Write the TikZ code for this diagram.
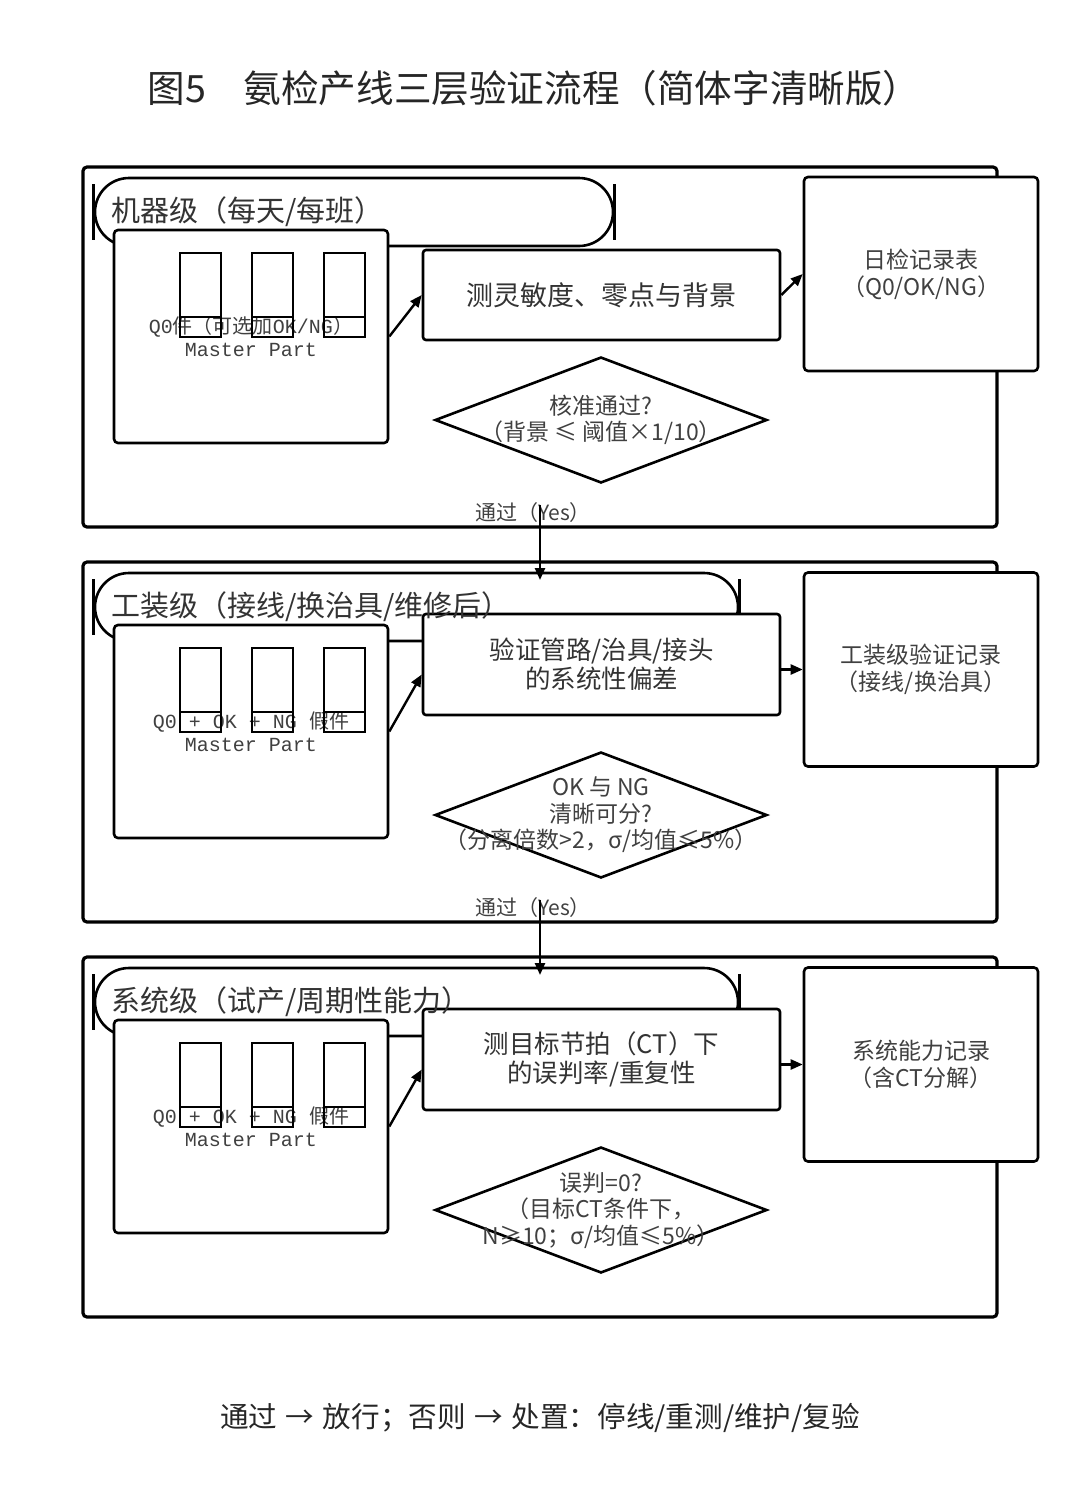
\documentclass[tikz,border=0pt]{standalone}
\usepackage{fontspec}
\setmainfont{Noto Sans CJK SC}
\setmonofont{Liberation Mono}
\usetikzlibrary{positioning, arrows.meta, shapes.geometric}
\newcommand{\mono}[1]{\texttt{#1}}

\begin{document}
\begin{tikzpicture}[x=0.5pt, y=-0.5pt, >={Triangle[length=6pt,width=5pt]},
    panel/.style={draw, line width=1.6pt, rounded corners=2pt, minimum width=457pt, minimum height=180pt, inner sep=0pt},
    track/.style={draw, line width=1.3pt, rounded corners=17pt, minimum height=34pt, inner sep=0pt},
    bar/.style={line width=1.3pt},
    partbox/.style={draw, fill=white, line width=1.3pt, rounded corners=2pt, minimum width=137pt, minimum height=106.5pt,
      inner sep=0pt, align=center, text=black!75, font=\fontsize{10pt}{11.5pt}\selectfont},
    slot/.style={draw, line width=1pt, minimum width=20.5pt, minimum height=42pt, inner sep=0pt,
      path picture={\draw[line width=1pt] ([yshift=10pt]path picture bounding box.south west) -- ([yshift=10pt]path picture bounding box.south east);}},
    procbox/.style={draw, fill=white, line width=1.3pt, rounded corners=1.5pt, minimum width=178.5pt, inner sep=0pt,
      align=center, text=black!80, font=\fontsize{12.75pt}{14.5pt}\selectfont},
    recbox/.style={draw, fill=white, line width=1.3pt, rounded corners=2pt, minimum width=117pt, minimum height=97pt,
      align=center, text=black!75, font=\fontsize{11.5pt}{13.5pt}\selectfont},
    check/.style={draw, diamond, aspect=2.6, line width=1.3pt, minimum width=166pt, minimum height=63pt, inner sep=0pt},
    cond/.style={align=center, inner sep=0pt, text=black!75, font=\fontsize{11.5pt}{13.25pt}\selectfont},
    lvl/.style={inner sep=0pt, text=black!80, font=\fontsize{14.5pt}{16pt}\selectfont},
    yes/.style={inner sep=0pt, text=black!75, font=\fontsize{10.5pt}{12pt}\selectfont},
    flow/.style={->, line width=1.2pt}]
  \useasboundingbox (0,0) rectangle (1080,1506);

  \node[text=black!85, font=\fontsize{18.8pt}{22pt}\selectfont] (ttl) at (534,88) {图5　氨检产线三层验证流程（简体字清晰版）};

  % 机器级
  \node[panel] (pan1) at (540,347) {};
  \node[track, minimum width=259pt] (st1) at (354,212) {};
  \draw[bar] ([yshift=14pt]st1.west) -- ([yshift=-14pt]st1.west);
  \draw[bar] ([yshift=14pt]st1.east) -- ([yshift=-14pt]st1.east);
  \node[partbox] (part1) at (251,336.5) {\mono{Q0}件（可选加\mono{OK/NG}）\\\mono{Master Part}};
  \node[slot] (s1a) at (200.5,295) {};
  \node[slot] (s1b) at (272.5,295) {};
  \node[slot] (s1c) at (344,295) {};
  \node[procbox, minimum height=45pt, font=\fontsize{13.5pt}{15pt}\selectfont] (proc1) at (601.5,295) {测灵敏度、零点与背景};
  \node[recbox] (rec1) at (921,274) {日检记录表\\（Q0/OK/NG）};
  \node[check] (chk1) at (601,420) {};
  \node[cond] (cnd1) at (chk1) {核准通过?\\（背景 ≤ 阈值×1/10）};
  \node[lvl, anchor=west] (lab1) at ([xshift=8.5pt]st1.west) {机器级（每天/每班）};
  \draw[flow] (part1.east) -- (proc1.west);
  \draw[flow] (proc1.east) -- (rec1.west);
  \node[yes] (ok1) at (533,513) {通过（Yes）};
  \coordinate (ok1t) at (540,505);

  % 工装级
  \node[panel] (pan2) at (540,742) {};
  \node[track, minimum width=321.5pt] (st2) at (416.5,607) {};
  \draw[bar] ([yshift=14pt]st2.west) -- ([yshift=-14pt]st2.west);
  \draw[bar] ([yshift=14pt]st2.east) -- ([yshift=-14pt]st2.east);
  \node[partbox] (part2) at (251,731.5) {\mono{Q0 + OK + NG }假件\\\mono{Master Part}};
  \node[slot] (s2a) at (200.5,690) {};
  \node[slot] (s2b) at (272.5,690) {};
  \node[slot] (s2c) at (344,690) {};
  \node[procbox, minimum height=50.5pt] (proc2) at (601.5,664.5) {验证管路/治具/接头\\的系统性偏差};
  \node[recbox] (rec2) at (921,669.5) {工装级验证记录\\（接线/换治具）};
  \node[check] (chk2) at (601,815) {};
  \node[cond] (cnd2) at (chk2) {OK 与 NG\\清晰可分?\\（分离倍数>2，σ/均值≤5\%）};
  \node[lvl, anchor=west] (lab2) at ([xshift=8.5pt]st2.west) {工装级（接线/换治具/维修后）};
  \coordinate (in2) at (540,580);
  \draw[flow] (ok1t) -- (in2);
  \draw[flow] (part2.east) -- ([yshift=-5pt]proc2.west);
  \draw[flow] ([yshift=-2.5pt]proc2.east) -- (rec2.west);
  \node[yes] (ok2) at (533,908) {通过（Yes）};
  \coordinate (ok2t) at (540,900);

  % 系统级
  \node[panel] (pan3) at (540,1137) {};
  \node[track, minimum width=321.5pt] (st3) at (416.5,1002) {};
  \draw[bar] ([yshift=14pt]st3.west) -- ([yshift=-14pt]st3.west);
  \draw[bar] ([yshift=14pt]st3.east) -- ([yshift=-14pt]st3.east);
  \node[partbox] (part3) at (251,1126.5) {\mono{Q0 + OK + NG }假件\\\mono{Master Part}};
  \node[slot] (s3a) at (200.5,1085) {};
  \node[slot] (s3b) at (272.5,1085) {};
  \node[slot] (s3c) at (344,1085) {};
  \node[procbox, minimum height=50.5pt] (proc3) at (601.5,1059.5) {测目标节拍（CT）下\\的误判率/重复性};
  \node[recbox] (rec3) at (921,1064.5) {系统能力记录\\（含CT分解）};
  \node[check] (chk3) at (601,1210) {};
  \node[cond] (cnd3) at (chk3) {误判=0?\\（目标CT条件下，\\N≥10；σ/均值≤5\%）};
  \node[lvl, anchor=west] (lab3) at ([xshift=8.5pt]st3.west) {系统级（试产/周期性能力）};
  \coordinate (in3) at (540,975);
  \draw[flow] (ok2t) -- (in3);
  \draw[flow] (part3.east) -- ([yshift=-5pt]proc3.west);
  \draw[flow] ([yshift=-2.5pt]proc3.east) -- (rec3.west);

  \node[text=black!85, font=\fontsize{14.3pt}{16pt}\selectfont] (note) at (540,1418)
    {通过\hspace{0.3em}→\hspace{0.3em}放行；否则\hspace{0.3em}→\hspace{0.3em}处置：停线/重测/维护/复验};
\end{tikzpicture}
\end{document}
